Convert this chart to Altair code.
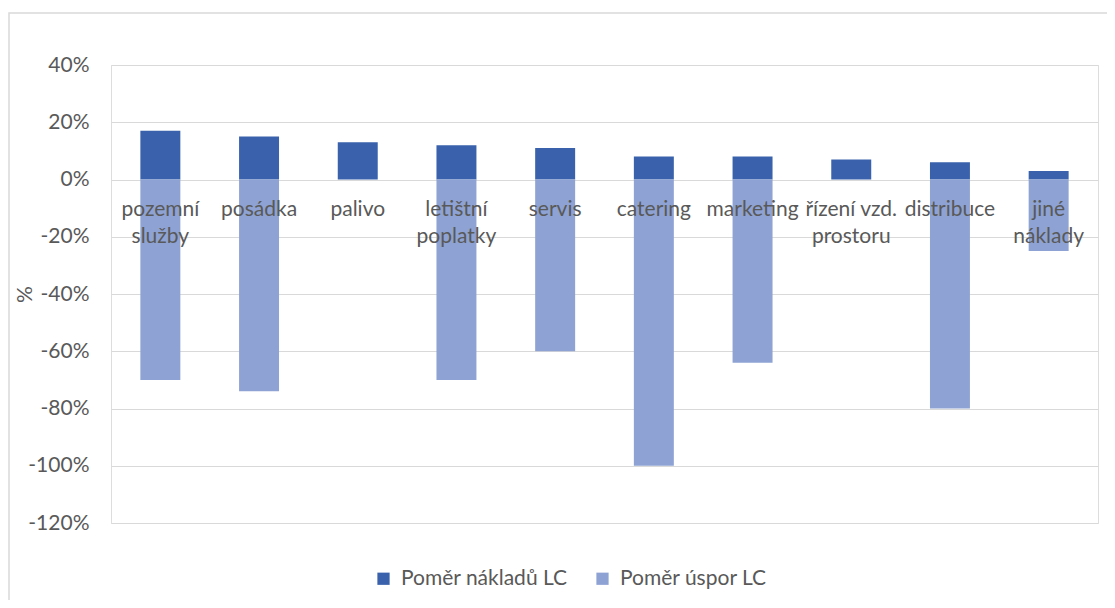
import altair as alt
import pandas as pd

categories = ["pozemní služby", "posádka", "palivo", "letištní poplatky", "servis",
              "catering", "marketing", "řízení vzd. prostoru", "distribuce", "jiné náklady"]
cat_labels = ["pozemní\nslužby", "posádka", "palivo", "letištní\npoplatky", "servis",
              "catering", "marketing", "řízení vzd.\nprostoru", "distribuce", "jiné\nnáklady"]
series_names = ["Poměr nákladů LC", "Poměr úspor LC"]
costs = [0.17, 0.15, 0.13, 0.12, 0.11, 0.08, 0.08, 0.07, 0.06, 0.03]
savings = [-0.70, -0.74, 0.0, -0.70, -0.60, -1.00, -0.64, 0.0, -0.80, -0.25]
y_ticks = [-1.2, -1.0, -0.8, -0.6, -0.4, -0.2, 0.0, 0.2, 0.4]
colors = ["#3A62AC", "#8EA3D4"]

rows = []
for c, v in zip(categories, costs):
    rows.append({"cat": c, "series": series_names[0], "value": v})
for c, v in zip(categories, savings):
    rows.append({"cat": c, "series": series_names[1], "value": v})
df = pd.DataFrame(rows)
lab_df = pd.DataFrame({"cat": categories, "label": cat_labels})

FONT = "Lato"
GREY = "#595959"
FS = 21

xscale = alt.Scale(domain=categories, paddingInner=0.595, paddingOuter=0.2975)
yscale = alt.Scale(domain=[-1.2, 0.4], nice=False, zero=False)

border = alt.Chart(pd.DataFrame({"a": [0]})).mark_rect(
    fillOpacity=0, stroke="#d9d9d9", strokeWidth=1.5
).encode(x=alt.value(-102), x2=alt.value(1200), y=alt.value(-52), y2=alt.value(700))

bars = alt.Chart(df).mark_bar().encode(
    x=alt.X("cat:N", scale=xscale, sort=categories, axis=None),
    y=alt.Y("value:Q", scale=yscale, stack=None,
            axis=alt.Axis(values=y_ticks, format=".0%", title="%", tickSize=0,
                          labelExpr="replace(datum.label, '\u2212', '-')",
                          domain=False, grid=True, gridColor="#d9d9d9", gridWidth=1.2,
                          labelPadding=22, labelFontSize=FS, labelColor=GREY, labelFont=FONT,
                          titleFont=FONT, titleFontSize=FS, titleColor=GREY,
                          titleFontWeight="normal", titleAngle=-90,
                          titleX=-86, titleY=229, titleAlign="center",
                          titleBaseline="middle")),
    color=alt.Color("series:N", scale=alt.Scale(domain=series_names, range=colors),
                    legend=alt.Legend(title=None, orient="none", direction="horizontal",
                                      legendX=262, legendY=503, symbolType="square",
                                      symbolSize=150, symbolStrokeWidth=0,
                                      labelFontSize=FS, labelColor=GREY, labelFont=FONT,
                                      labelLimit=400, columnPadding=24, symbolOpacity=1,
                                      labelOffset=7)),
    order=alt.Order("series:N"),
)

labels = alt.Chart(lab_df).mark_text(
    baseline="top", align="center", dy=19, lineBreak="\n", lineHeight=27,
    fontSize=FS, font=FONT, color=GREY
).encode(
    x=alt.X("cat:N", scale=xscale, sort=categories),
    y=alt.Y(datum=0, scale=yscale),
    text="label:N",
)

chart = alt.layer(border, bars, labels).properties(
    width=987, height=458,
    autosize=alt.AutoSizeParams(type="none"),
    padding={"left": 103, "top": 57, "right": 9, "bottom": 77},
).configure_view(stroke=None).configure(background="white")

chart.save("out.html", embed_options={"renderer": "svg", "actions": False})
